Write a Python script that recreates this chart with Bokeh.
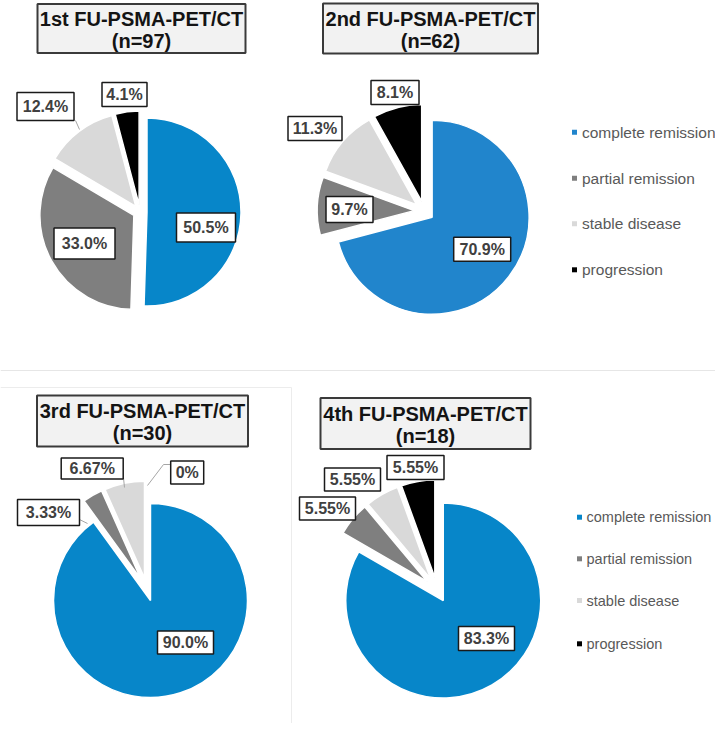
import numpy as np
from bokeh.plotting import figure
from bokeh.models import Range1d, ColumnDataSource
from bokeh.embed import file_html
from bokeh.resources import INLINE
from bokeh.core.properties import value

# ---------------- data ----------------
categories = ["complete remission", "partial remission", "stable disease", "progression"]
titles = ["1st FU-PSMA-PET/CT", "2nd FU-PSMA-PET/CT", "3rd FU-PSMA-PET/CT", "4th FU-PSMA-PET/CT"]
n_patients = [97, 62, 30, 18]
fu1 = [50.5, 33.0, 12.4, 4.1]
fu2 = [70.9, 9.7, 11.3, 8.1]
fu3 = [90.0, 3.33, 6.67, 0.0]
fu4 = [83.3, 5.55, 5.55, 5.55]
labels1 = ["50.5%", "33.0%", "12.4%", "4.1%"]
labels2 = ["70.9%", "9.7%", "11.3%", "8.1%"]
labels3 = ["90.0%", "3.33%", "6.67%", "0%"]
labels4 = ["83.3%", "5.55%", "5.55%", "5.55%"]

# ---------------- styles / layout ----------------
BLUE_A = "#0786c9"
BLUE_B = "#2185cc"
GRAY = "#7f7f7f"
LIGHT = "#d9d9d9"
BLACK = "#000000"
FONT = value("Liberation Sans")

W, H = 715, 723
PAGE_H = 731


def Y(y):
    return PAGE_H - y


pies = [
    dict(values=fu1, labels=labels1, blue=BLUE_A, cx=139.5, cy=211.5, r=94, e=7,
         boxes=[(205.5, 227, 59, 29), (84, 243, 61, 31), (45, 106, 57, 28), (124, 94, 45, 24)],
         title=(141, 28, 208, 49)),
    dict(values=fu2, labels=labels2, blue=BLUE_B, cx=423.7, cy=210.6, r=97, e=10,
         boxes=[(481.7, 248.7, 57, 24), (349, 209, 47, 26), (314.5, 128, 54, 24), (394.5, 92, 48, 24)],
         title=(430, 28, 215, 50)),
    dict(values=fu3, labels=labels3, blue=BLUE_A, cx=146.4, cy=589.0, r=97, e=11.6,
         boxes=[(185, 642, 56, 23), (48, 512, 62, 26), (91.7, 468, 62, 21), (186.7, 472, 33, 23)],
         title=(142, 420.5, 211, 51)),
    dict(values=fu4, labels=labels4, blue=BLUE_A, cx=436.5, cy=589.2, r=97.5, e=12.5,
         boxes=[(486, 638, 56, 24), (327, 508, 56, 23), (352, 479, 56, 23), (415, 467, 57, 24)],
         title=(425, 423, 210, 51)),
]

p = figure(width=W, height=H, x_range=Range1d(0, W), y_range=Range1d(PAGE_H - H, PAGE_H),
           output_backend="svg", toolbar_location=None, x_axis_type=None, y_axis_type=None,
           min_border=0, outline_line_color=None, background_fill_color="white")
p.grid.visible = False

# separator lines
p.line(x=[0, W], y=[Y(370), Y(370)], line_color="#e6e6e6", line_width=1)
p.line(x=[0, 291, 291], y=[Y(387), Y(387), Y(H)], line_color="#ececec", line_width=1)

for i, pie in enumerate(pies):
    vals = np.array(pie["values"], dtype=float)
    frac = vals / vals.sum()
    cum = np.concatenate([[0.0], np.cumsum(frac)])
    start = np.pi / 2 - 2 * np.pi * cum[:-1]
    end = np.pi / 2 - 2 * np.pi * cum[1:]
    mid = (start + end) / 2
    cx, cy = pie["cx"], Y(pie["cy"])
    xs = cx + pie["e"] * np.cos(mid)
    ys = cy + pie["e"] * np.sin(mid)
    colors = [pie["blue"], GRAY, LIGHT, BLACK]
    keep = vals > 0
    src = ColumnDataSource(dict(x=xs[keep], y=ys[keep], start=start[keep], end=end[keep],
                                color=[c for c, k in zip(colors, keep) if k]))
    p.wedge(x="x", y="y", radius=pie["r"], start_angle="start", end_angle="end", direction="clock",
            fill_color="color", line_color="white", line_width=1.5, source=src)

    # title box
    tx, ty, tw, th = pie["title"]
    p.rect(x=[tx], y=[Y(ty)], width=[tw], height=[th], fill_color="#f2f2f2",
           line_color="#3a3a3a", line_width=2)
    p.text(x=[tx, tx], y=[Y(ty - 10), Y(ty + 12)],
           text=[titles[i], "(n=%d)" % n_patients[i]],
           text_align="center", text_baseline="middle", text_font=FONT,
           text_font_style="bold", text_font_size="20px", text_color="#141414")

# leader lines
leader_color = "#a6a6a6"
p.line(x=[75, 79], y=[Y(120), Y(129)], line_color=leader_color, line_width=1)
p.line(x=[123, 124], y=[Y(477.5), Y(487)], line_color=leader_color, line_width=1)
p.line(x=[170, 163, 147], y=[Y(464), Y(464), Y(485)], line_color=leader_color, line_width=1)
p.line(x=[79, 87], y=[Y(519), Y(523)], line_color=leader_color, line_width=1)

for pie in pies:
    bx = [b[0] for b in pie["boxes"]]
    by = [Y(b[1]) for b in pie["boxes"]]
    bw = [b[2] for b in pie["boxes"]]
    bh = [b[3] for b in pie["boxes"]]
    p.rect(x=bx, y=by, width=bw, height=bh, fill_color="white", line_color="#1a1a1a", line_width=1.5)
    p.text(x=bx, y=by, text=pie["labels"], text_align="center", text_baseline="middle",
           text_font=FONT, text_font_style="bold", text_font_size="16px", text_color="#404040")

# legends
legend_sets = [
    dict(sq_x=574.0, tx=581.5, ys=[131.7, 177.7, 223.3, 269.3], blue=BLUE_B, size="15.5px"),
    dict(sq_x=579.0, tx=586.0, ys=[516.7, 558.3, 600.0, 643.3], blue=BLUE_A, size="14.5px"),
]
for lg in legend_sets:
    cols = [lg["blue"], GRAY, LIGHT, BLACK]
    p.rect(x=[lg["sq_x"]] * 4, y=[Y(v) for v in lg["ys"]], width=5, height=5,
           fill_color=cols, line_color=None)
    p.text(x=[lg["tx"]] * 4, y=[Y(v) for v in lg["ys"]], text=categories,
           text_align="left", text_baseline="middle", text_font=FONT,
           text_font_size=lg["size"], text_color="#595959")

open("out.html", "w").write(file_html(p, INLINE))
